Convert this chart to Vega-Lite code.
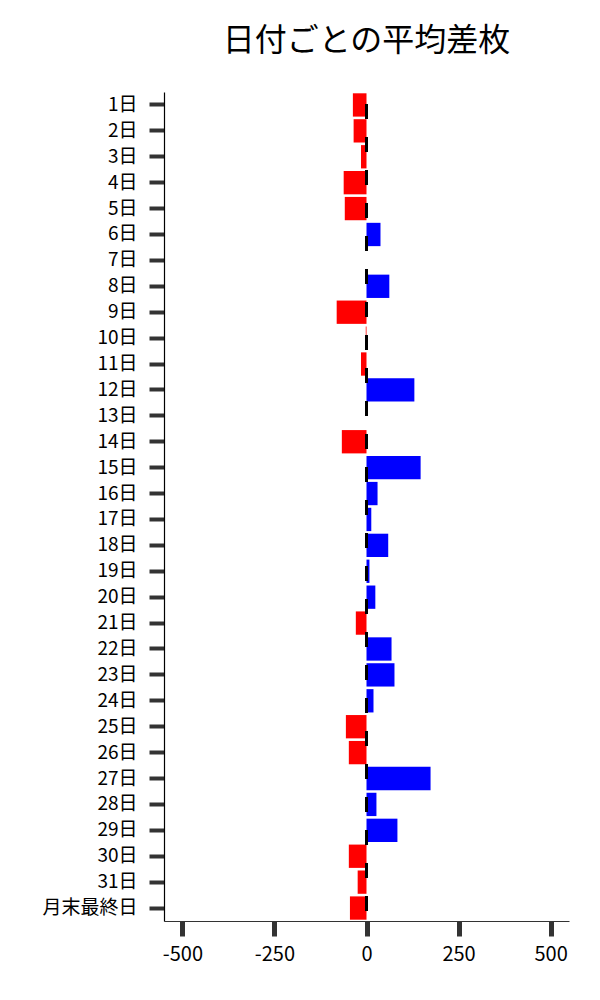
{
  "$schema": "https://vega.github.io/schema/vega-lite/v6.json",
  "autosize": {"type": "none"},
  "padding": {"left": 164, "top": 92, "right": 31, "bottom": 79},
  "width": 405,
  "height": 829,
  "background": "white",
  "title": {
    "text": "日付ごとの平均差枚",
    "font": "Noto Sans CJK JP",
    "fontSize": 32,
    "fontWeight": "normal",
    "color": "black",
    "anchor": "middle",
    "offset": 33
  },
  "config": {
    "view": {"stroke": null},
    "font": "Noto Sans CJK JP"
  },
  "data": {
    "values": [
      {"day": "1日", "value": -37},
      {"day": "2日", "value": -35},
      {"day": "3日", "value": -15},
      {"day": "4日", "value": -62},
      {"day": "5日", "value": -59},
      {"day": "6日", "value": 38},
      {"day": "7日", "value": 0},
      {"day": "8日", "value": 62},
      {"day": "9日", "value": -81},
      {"day": "10日", "value": -2},
      {"day": "11日", "value": -15},
      {"day": "12日", "value": 130},
      {"day": "13日", "value": 0},
      {"day": "14日", "value": -67},
      {"day": "15日", "value": 147},
      {"day": "16日", "value": 30},
      {"day": "17日", "value": 13},
      {"day": "18日", "value": 59},
      {"day": "19日", "value": 8},
      {"day": "20日", "value": 24},
      {"day": "21日", "value": -29},
      {"day": "22日", "value": 68},
      {"day": "23日", "value": 76},
      {"day": "24日", "value": 19},
      {"day": "25日", "value": -56},
      {"day": "26日", "value": -48},
      {"day": "27日", "value": 174},
      {"day": "28日", "value": 27},
      {"day": "29日", "value": 84},
      {"day": "30日", "value": -48},
      {"day": "31日", "value": -24},
      {"day": "月末最終日", "value": -45}
    ]
  },
  "layer": [
    {
      "mark": {"type": "bar"},
      "encoding": {
        "y": {
          "field": "day",
          "type": "nominal",
          "sort": null,
          "scale": {"paddingInner": 0.1, "paddingOuter": 0.05},
          "axis": {
            "title": null,
            "labelFont": "Noto Sans CJK JP",
            "labelFontSize": 19,
            "labelColor": "black",
            "labelPadding": 12,
            "tickSize": 15,
            "tickWidth": 4,
            "tickColor": "#333333",
            "domainColor": "black",
            "domainWidth": 1.2
          }
        },
        "x": {
          "field": "value",
          "type": "quantitative",
          "scale": {"domain": [-550, 550], "nice": false, "zero": false},
          "axis": {
            "title": null,
            "values": [-500, -250, 0, 250, 500],
            "labelExpr": "'' + datum.value",
            "grid": false,
            "labelFont": "Noto Sans CJK JP",
            "labelFontSize": 20,
            "labelColor": "black",
            "labelPadding": 8,
            "tickSize": 15,
            "tickWidth": 5,
            "tickColor": "#333333",
            "domainColor": "#333333",
            "domainWidth": 1.2
          }
        },
        "color": {
          "condition": {"test": "datum.value < 0", "value": "#ff0000"},
          "value": "#0000ff"
        }
      }
    },
    {
      "mark": {"type": "rule", "color": "black", "strokeWidth": 2, "strokeDash": [15, 18], "strokeDashOffset": 21},
      "encoding": {
        "x": {"datum": 0, "type": "quantitative"}
      }
    }
  ]
}
